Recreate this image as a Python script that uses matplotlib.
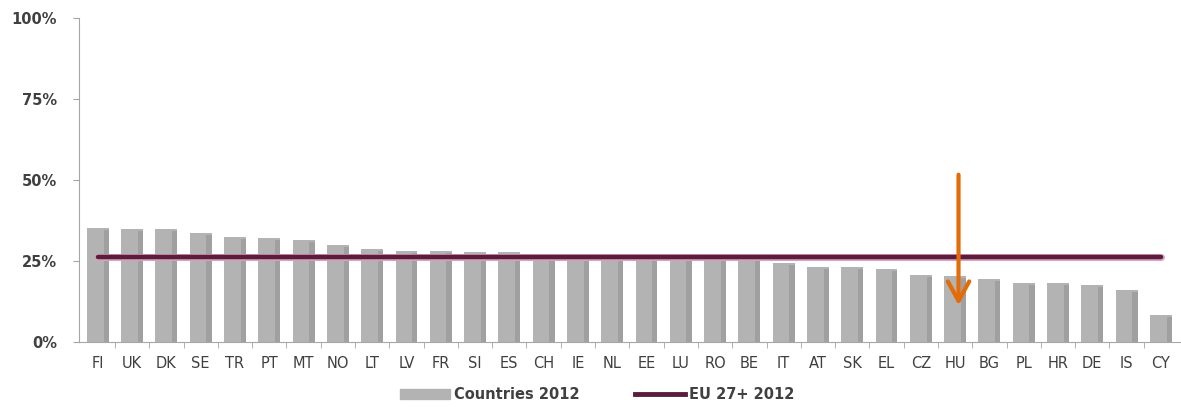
import matplotlib.pyplot as plt
from matplotlib.patches import Patch
from matplotlib.lines import Line2D
from matplotlib.ticker import PercentFormatter

# Data
countries = ["FI", "UK", "DK", "SE", "TR", "PT", "MT", "NO", "LT", "LV",
             "FR", "SI", "ES", "CH", "IE", "NL", "EE", "LU", "RO", "BE",
             "IT", "AT", "SK", "EL", "CZ", "HU", "BG", "PL", "HR", "DE",
             "IS", "CY"]
values_2012 = [35.2, 35.0, 35.0, 33.6, 32.4, 32.0, 31.5, 30.0, 28.7, 28.0,
               28.0, 27.8, 27.8, 27.2, 26.5, 26.0, 26.0, 25.6, 25.5, 25.5,
               24.4, 23.1, 23.1, 22.5, 20.7, 20.4, 19.4, 18.2, 18.2, 17.6,
               16.0, 8.3]
eu_avg_2012 = 26.1
highlight = "HU"
arrow_from, arrow_to = 52.5, 10.5

BAR = "#b3b3b3"
SHADE = "#a0a0a0"
LINE = "#5b1d3f"
TEXT = "#404040"

fig = plt.figure(figsize=(11.81, 4.07), dpi=100)
ax = fig.add_axes([0.0669, 0.1597, 0.932, 0.7961])

x = list(range(len(countries)))
w = 0.64
ax.bar(x, values_2012, width=w, color=BAR, zorder=2)
# darker strip on the right side of each bar, like the shadow in the original
ax.bar([i + w * 0.38 for i in x], [v - 0.6 for v in values_2012], width=w * 0.24,
       color=SHADE, zorder=2)

ax.plot([x[0], x[-1]], [eu_avg_2012, eu_avg_2012], color="#d9a0b8", lw=5,
        solid_capstyle="round", zorder=3)
ax.plot([x[0], x[-1]], [eu_avg_2012, eu_avg_2012], color=LINE, lw=3.2,
        solid_capstyle="round", zorder=4)

hi = countries.index(highlight)
ax.annotate("", xy=(hi + 0.1, arrow_to), xytext=(hi + 0.1, arrow_from),
            arrowprops=dict(arrowstyle="->,head_width=0.55,head_length=1.0",
                            mutation_scale=14, color="#e36c09", lw=3), zorder=5)

ax.set_xlim(-0.55, len(countries) - 0.45)
ax.set_ylim(0, 100)
ax.set_yticks([0, 25, 50, 75, 100])
ax.yaxis.set_major_formatter(PercentFormatter(decimals=0))
ax.set_xticks(x)
ax.set_xticklabels(countries)
ax.set_xticks([i + 0.5 for i in x[:-1]], minor=True)
ax.tick_params(axis="x", which="major", length=0, pad=10, labelsize=10.5,
               labelcolor=TEXT)
ax.tick_params(axis="x", which="minor", length=4, color="#a6a6a6", direction="out")
ax.tick_params(axis="y", length=4, color="#a6a6a6", labelsize=10.5,
               labelcolor=TEXT, pad=12)
for lab in ax.get_yticklabels():
    lab.set_fontweight("bold")

for s in ["top", "right"]:
    ax.spines[s].set_visible(False)
for s in ["left", "bottom"]:
    ax.spines[s].set_color("#a6a6a6")

handles = [Patch(color=BAR), Line2D([0], [0], color=LINE, lw=3.5)]
fig.legend(handles, ["Countries 2012", "EU 27+ 2012"], loc="lower center",
           bbox_to_anchor=(0.506, -0.02), ncol=2, frameon=False,
           handlelength=3.4, columnspacing=3.8, handletextpad=0.3,
           prop={"weight": "bold", "size": 10.5})
for t in fig.legends[0].get_texts():
    t.set_color(TEXT)

fig.savefig("out.png", dpi=100)
